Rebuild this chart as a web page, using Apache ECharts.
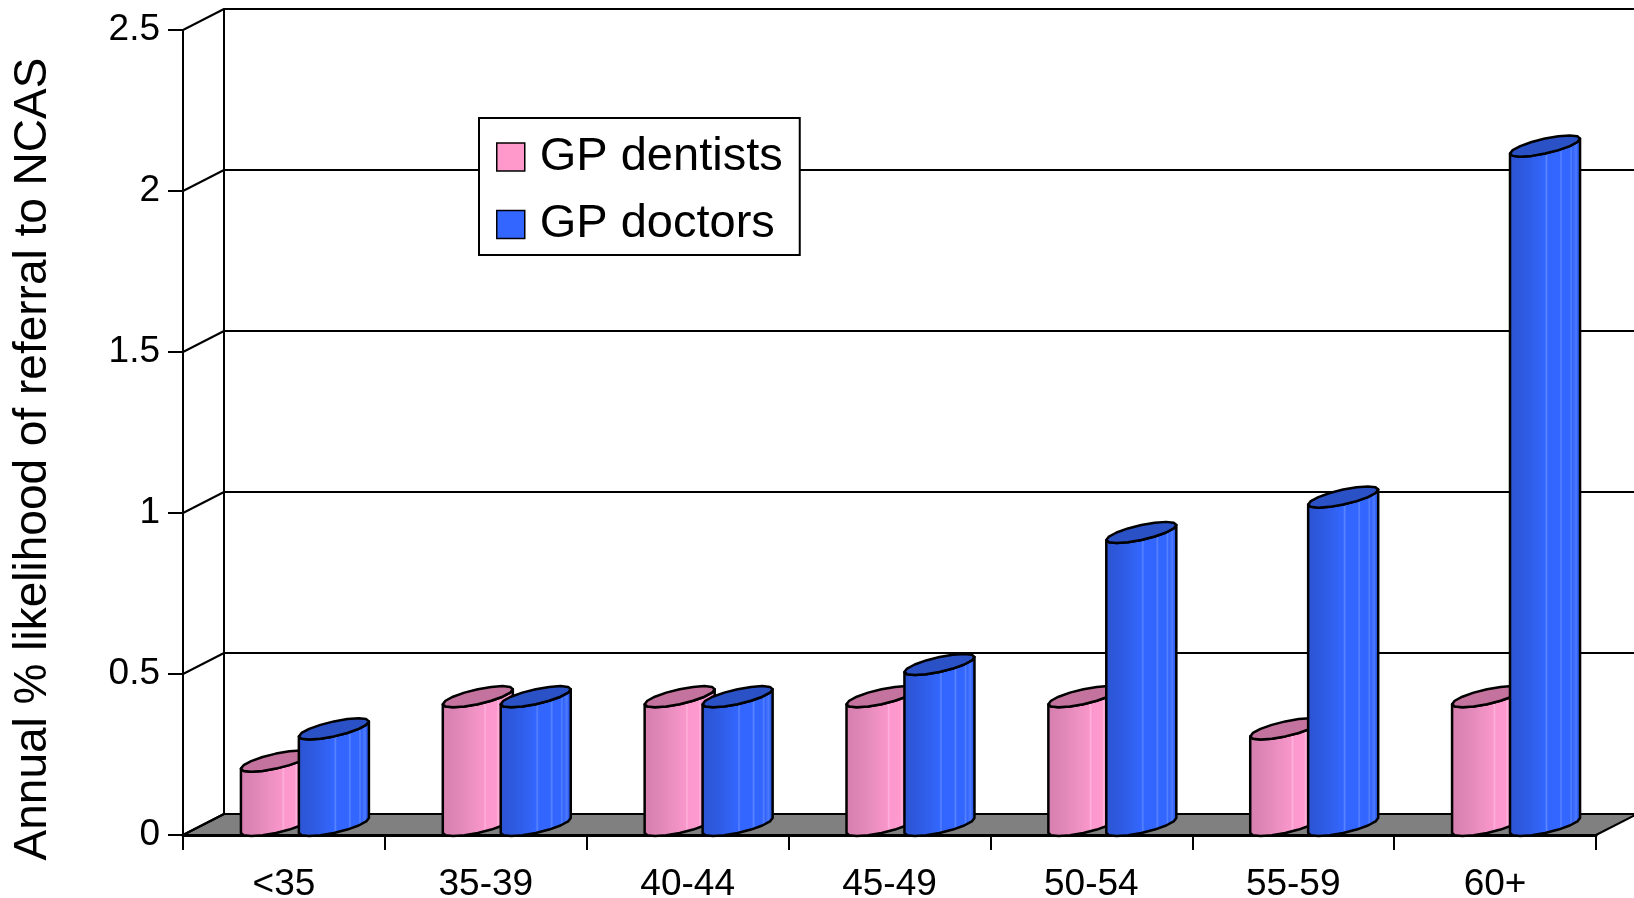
<!DOCTYPE html>
<html>
<head>
<meta charset="utf-8">
<title>Annual % likelihood of referral to NCAS</title>
<script src="https://cdn.jsdelivr.net/npm/echarts@6/dist/echarts.min.js"></script>
<style>
  html, body { margin: 0; padding: 0; background: #ffffff; }
  #chart { width: 1634px; height: 898px; }
</style>
</head>
<body>
<div id="chart"></div>
<script>
// Age bands and annual referral likelihood (%) per practitioner group
const categories = ['<35', '35-39', '40-44', '45-49', '50-54', '55-59', '60+'];
const gpDentists = [0.2, 0.4, 0.4, 0.4, 0.4, 0.3, 0.4];
const gpDoctors = [0.3, 0.4, 0.4, 0.5, 0.91, 1.02, 2.11];
const yTicks = [0, 0.5, 1, 1.5, 2, 2.5];

const FONT = '"Liberation Sans", Arial, Helvetica, sans-serif';
// oblique depth of the 3-D frame (back wall offset from the front plane)
const DEPTH_X = 41;
const DEPTH_Y = -21;

const chart = echarts.init(document.getElementById('chart'), null, { renderer: 'canvas' });

// Floor slab and side-wall gridlines of the 3-D frame
function renderFrame(params, api) {
  const cs = params.coordSys;
  const y0 = api.coord([0, 0])[1];
  const children = [{
    type: 'polygon',
    shape: { points: [
      [cs.x, y0], [cs.x + cs.width, y0],
      [cs.x + cs.width + DEPTH_X, y0 + DEPTH_Y], [cs.x + DEPTH_X, y0 + DEPTH_Y]
    ] },
    style: { fill: '#808080', stroke: '#000', lineWidth: 2, lineJoin: 'round' }
  }];
  yTicks.forEach(function (t) {
    const y = api.coord([0, t])[1];
    children.push({
      type: 'line',
      shape: { x1: cs.x, y1: y, x2: cs.x + DEPTH_X, y2: y + DEPTH_Y },
      style: { stroke: '#000', lineWidth: 2 }
    });
  });
  return { type: 'group', children: children };
}

// Cylinder drawn in oblique projection: sheared ellipse top, extruded down to zero
function cylinderRenderer(offsetFrac, widthFrac, bodyStops, topColor) {
  return function (params, api) {
    const top = api.coord([api.value(0), api.value(1)]);
    const base = api.coord([api.value(0), 0]);
    const band = api.size([1, 0])[0];
    const w = band * widthFrac;
    const a = w / 2;
    const cx = top[0] + band * offsetFrac + a;
    const rise = 7.5;   // half of the left-to-right lift of the rim
    const half = 7.5;   // half thickness of the rim ellipse
    const ct = top[1] - 2 - rise;
    const cb = base[1] - 2 - rise;
    const N = 16;
    function pt(cy, t) {
      return [cx + a * Math.cos(t), cy - rise * Math.cos(t) + half * Math.sin(t)];
    }
    const body = [];
    for (let i = 0; i <= N / 2; i++) body.push(pt(cb, Math.PI - i * 2 * Math.PI / N));
    for (let i = 0; i <= N / 2; i++) body.push(pt(ct, i * 2 * Math.PI / N));
    const rim = [];
    for (let i = 0; i < N; i++) rim.push(pt(ct, i * 2 * Math.PI / N));
    return {
      type: 'group',
      children: [{
        type: 'polygon',
        shape: { points: body },
        style: {
          fill: new echarts.graphic.LinearGradient(0, 0, 1, 0, bodyStops),
          stroke: '#000', lineWidth: 2.5, lineJoin: 'round'
        }
      }, {
        type: 'polygon',
        shape: { points: rim },
        style: { fill: topColor, stroke: '#000', lineWidth: 2.5, lineJoin: 'round' }
      }]
    };
  };
}

const pinkStops = [
  { offset: 0, color: '#d67fae' }, { offset: 0.2, color: '#de86b6' },
  { offset: 0.4, color: '#ec8fc1' }, { offset: 0.58, color: '#f896ca' },
  { offset: 0.6, color: '#ffb2dc' }, { offset: 0.62, color: '#fc98cd' },
  { offset: 0.76, color: '#ff9acf' }, { offset: 0.78, color: '#ffb5dd' },
  { offset: 0.8, color: '#fd99ce' }, { offset: 0.9, color: '#fb98cc' },
  { offset: 0.92, color: '#ffb0da' }, { offset: 0.94, color: '#f895c9' },
  { offset: 1, color: '#f393c6' }
];
const blueStops = [
  { offset: 0, color: '#2c54d2' }, { offset: 0.2, color: '#2e5ae0' },
  { offset: 0.4, color: '#3162f2' }, { offset: 0.5, color: '#3366ff' },
  { offset: 0.52, color: '#5a86ff' }, { offset: 0.54, color: '#3366ff' },
  { offset: 0.7, color: '#3366ff' }, { offset: 0.72, color: '#5a86ff' },
  { offset: 0.74, color: '#3366ff' }, { offset: 0.84, color: '#3366ff' },
  { offset: 0.86, color: '#5582ff' }, { offset: 0.88, color: '#3263fa' },
  { offset: 0.93, color: '#4c7bff' }, { offset: 0.95, color: '#3060f2' },
  { offset: 1, color: '#2f5eee' }
];

const option = {
  backgroundColor: '#ffffff',
  animation: false,
  textStyle: { fontFamily: FONT },
  grid: [
    { left: 183, right: 38, top: 30, bottom: 63, containLabel: false, outerBoundsMode: 'none' },
    { left: 224, right: -3, top: 9, bottom: 84, containLabel: false, outerBoundsMode: 'none' }
  ],
  xAxis: [{
    type: 'category',
    gridIndex: 0,
    data: categories,
    axisLine: { lineStyle: { color: '#000', width: 3 } },
    axisTick: { show: true, length: 15, lineStyle: { color: '#000', width: 2 } },
    axisLabel: { fontSize: 37, color: '#000', margin: 31, fontFamily: FONT },
    splitLine: { show: false }
  }, {
    type: 'category',
    gridIndex: 1,
    data: categories,
    show: false
  }],
  yAxis: [{
    type: 'value',
    gridIndex: 0,
    min: 0, max: 2.5, interval: 0.5,
    axisLine: { show: true, lineStyle: { color: '#000', width: 2 } },
    axisTick: { show: true, length: 15, lineStyle: { color: '#000', width: 2 } },
    axisLabel: { fontSize: 37, color: '#000', margin: 23, fontFamily: FONT },
    splitLine: { show: false }
  }, {
    type: 'value',
    gridIndex: 1,
    min: 0, max: 2.5, interval: 0.5,
    axisLine: { show: true, lineStyle: { color: '#000', width: 2 } },
    axisTick: { show: false },
    axisLabel: { show: false },
    splitLine: { show: true, lineStyle: { color: '#000', width: 2 } }
  }],
  legend: {
    orient: 'vertical',
    left: 479,
    top: 118,
    padding: [15.5, 15, 7, 17],
    backgroundColor: '#ffffff',
    borderColor: '#000',
    borderWidth: 2,
    itemWidth: 28,
    itemHeight: 28,
    itemGap: 20.5,
    icon: 'rect',
    itemStyle: { borderColor: '#000', borderWidth: 1.5 },
    textStyle: {
      fontSize: 47, color: '#000', fontFamily: FONT,
      lineHeight: 46, width: 245, padding: [0, 0, 0, 10]
    },
    data: [
      { name: 'GP dentists', itemStyle: { color: '#ff99cc' } },
      { name: 'GP doctors', itemStyle: { color: '#3366ff' } }
    ]
  },
  graphic: [{
    type: 'text',
    x: 33,
    y: 459,
    rotation: Math.PI / 2,
    style: {
      text: 'Annual % likelihood of referral to NCAS',
      font: '46px ' + FONT,
      fill: '#000',
      align: 'center',
      verticalAlign: 'middle'
    },
    silent: true
  }],
  series: [{
    type: 'custom',
    xAxisIndex: 0, yAxisIndex: 0,
    z: 1,
    silent: true,
    renderItem: renderFrame,
    data: [[0, 0]]
  }, {
    type: 'custom',
    name: 'GP dentists',
    xAxisIndex: 0, yAxisIndex: 0,
    z: 3,
    itemStyle: { color: '#ff99cc' },
    renderItem: cylinderRenderer(-0.213, 0.347, pinkStops, '#c3739d'),
    encode: { x: 0, y: 1 },
    data: gpDentists.map(function (v, i) { return [i, v]; })
  }, {
    type: 'custom',
    name: 'GP doctors',
    xAxisIndex: 0, yAxisIndex: 0,
    z: 3,
    itemStyle: { color: '#3366ff' },
    renderItem: cylinderRenderer(0.074, 0.347, blueStops, '#2b51c6'),
    encode: { x: 0, y: 1 },
    data: gpDoctors.map(function (v, i) { return [i, v]; })
  }]
};

chart.setOption(option);
</script>
</body>
</html>
